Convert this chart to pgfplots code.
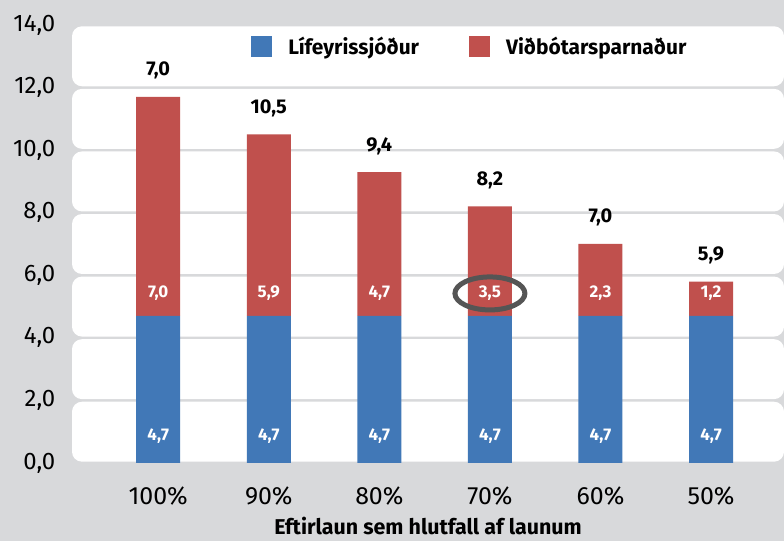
\documentclass[border=0pt]{standalone}
\usepackage{pgfplots}
\pgfplotsset{compat=1.18}
\usepackage{fontspec}
\setmainfont{Fira Sans}
\definecolor{bggrey}{RGB}{216,217,219}
\definecolor{myblue}{RGB}{65,120,183}
\definecolor{myred}{RGB}{192,80,77}
\definecolor{ringgrey}{RGB}{85,85,85}
\newcommand{\fs}[1]{\fontsize{#1}{#1}\selectfont}
\pgfplotsset{
  base/.style={
    scale only axis, width=712bp, height=438bp,
    xmin=-0.78, xmax=5.66, ymin=0, ymax=14,
    at={(72bp,78bp)}, anchor=south west,
    axis line style={draw=none}, tick style={draw=none},
    clip=false,
  }
}
\newcommand{\band}[2]{\fill[white, rounded corners=10bp] ([yshift=1.3bp]axis cs:-0.78,#1) rectangle ([yshift=-1.3bp]axis cs:5.66,#2);}
\begin{document}
\begin{tikzpicture}
\fill[bggrey] (0,0) rectangle (784bp,541bp);
\useasboundingbox (0,0) rectangle (784bp,541bp);
% axis A: bands and tick labels
\begin{axis}[base,
  ytick={0,2,4,6,8,10,12,14},
  yticklabel style={anchor=east, inner sep=0pt, xshift=-16.5bp, font=\fs{24}},
  /pgf/number format/.cd, fixed, fixed zerofill, precision=1, use comma, assume math mode=true,
  /pgfplots/.cd,
  xtick={0,1,2,3,4,5},
  xticklabels={100\%,90\%,80\%,70\%,60\%,50\%},
  xticklabel style={anchor=north, inner sep=0pt, yshift=-24bp, font=\fs{25}},
  xlabel={Eftirlaun sem hlutfall af launum},
  every axis x label/.style={at={(axis description cs:0.5,0)}, anchor=base, yshift=-71bp, inner sep=0pt, font=\bfseries\fs{21.5}},
]
\band{0}{2}
\band{2}{4}
\band{4}{6}
\band{6}{8}
\band{8}{10}
\band{10}{12}
\band{12}{14}
\end{axis}
% axis B: stacked bars
\begin{axis}[base, ybar stacked, bar width=44bp,
  xtick=\empty, ytick=\empty,
  legend columns=2,
  legend style={draw=none, fill=none, inner sep=0pt, at={(axis cs:0.84,13.31)}, anchor=west,
    font=\bfseries\fs{21},
    /tikz/every odd column/.append style={column sep=16bp},
    /tikz/every even column/.append style={column sep=50bp},
    nodes={inner sep=0pt}},
]
\addplot[fill=myblue, draw=none, legend image code/.code={\fill[myblue] (0bp,-10.5bp) rectangle (21bp,10.5bp);}]
  coordinates {(0,4.7) (1,4.7) (2,4.7) (3,4.7) (4,4.7) (5,4.7)};
\addplot[fill=myred, draw=none, legend image code/.code={\fill[myred] (0bp,-10.5bp) rectangle (21bp,10.5bp);}]
  coordinates {(0,7.0) (1,5.8) (2,4.6) (3,3.5) (4,2.3) (5,1.1)};
\legend{Lífeyrissjóður, Viðbótarsparnaður}
\end{axis}
% axis C: labels
\begin{axis}[base, hide axis]
\addplot[draw=none, mark=none, nodes near coords, point meta=explicit symbolic,
  every node near coord/.append style={anchor=center, inner sep=0pt, white, font=\bfseries\fs{17}}]
  table[x=x, y=y, meta=lab] {
x y lab
0 0.86 {4,7}
1 0.86 {4,7}
2 0.86 {4,7}
3 0.86 {4,7}
4 0.86 {4,7}
5 0.86 {4,7}
};
\addplot[draw=none, mark=none, nodes near coords, point meta=explicit symbolic,
  every node near coord/.append style={anchor=center, inner sep=0pt, white, font=\bfseries\fs{17}}]
  table[x=x, y=y, meta=lab] {
x y lab
0 5.42 {7,0}
1 5.42 {5,9}
2 5.42 {4,7}
3 5.42 {3,5}
4 5.42 {2,3}
5 5.42 {1,2}
};
\addplot[draw=none, mark=none, nodes near coords, point meta=explicit symbolic,
  every node near coord/.append style={anchor=base, inner sep=0pt, black, yshift=21bp, font=\bfseries\fs{20}}]
  table[x=x, y=y, meta=lab] {
x y lab
0 11.7 {7,0}
1 10.5 {10,5}
2 9.3 {9,4}
3 8.2 {8,2}
4 7.0 {7,0}
5 5.8 {5,9}
};
\draw[line width=5bp, ringgrey] (axis cs:3,5.42) ellipse [x radius=35bp, y radius=16.5bp];
\end{axis}
\end{tikzpicture}
\end{document}
